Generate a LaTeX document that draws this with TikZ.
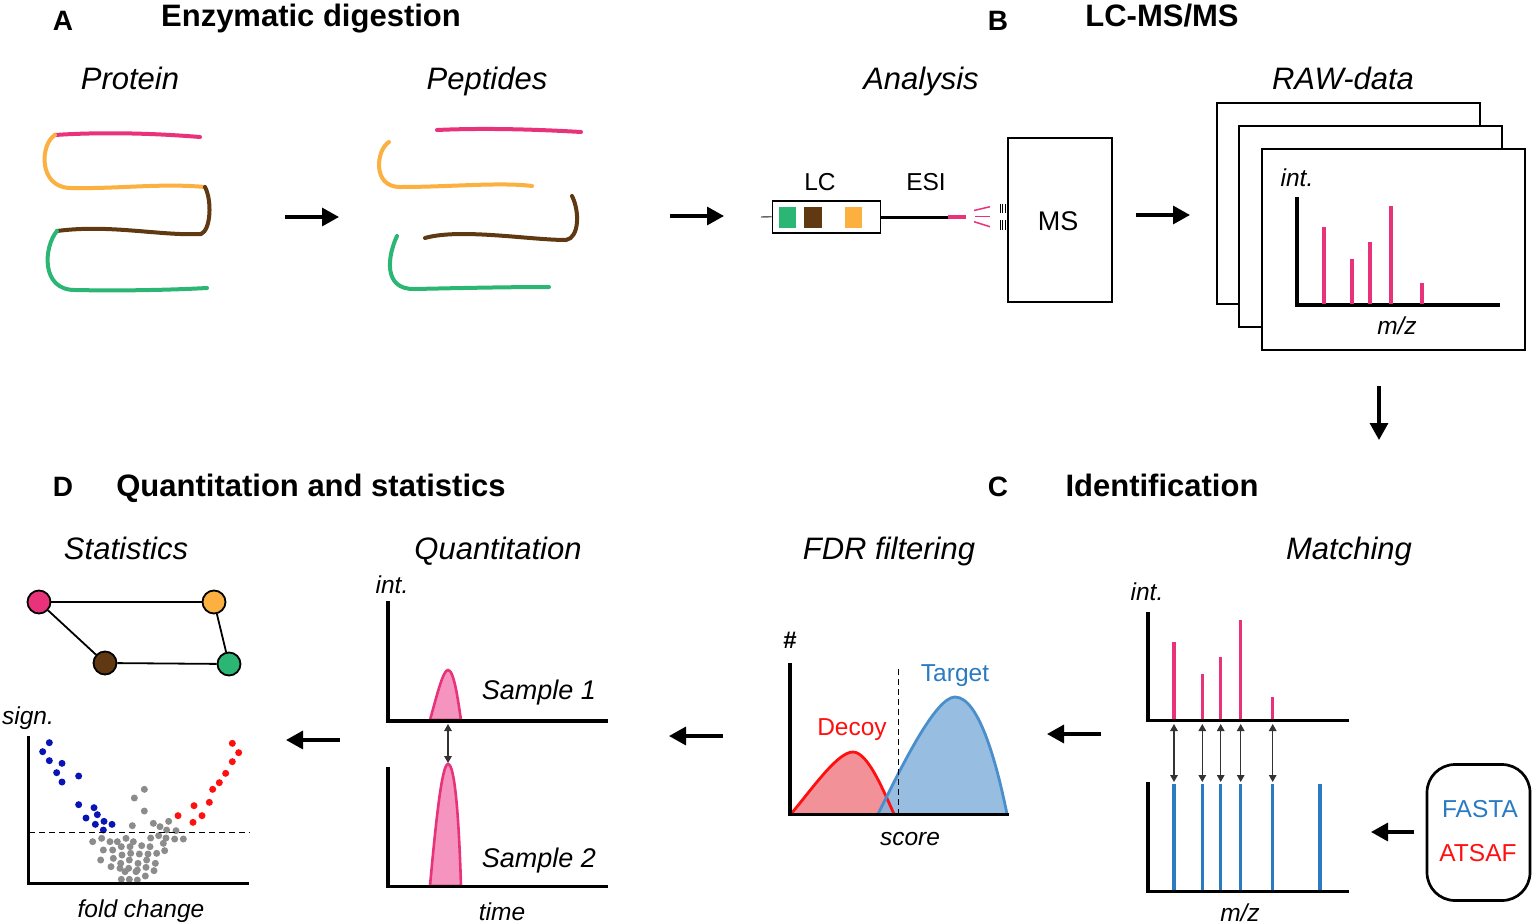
\documentclass[tikz,border=0pt]{standalone}
\usepackage{fontspec}
\setmainfont{Liberation Sans}
\usetikzlibrary{arrows.meta}
\definecolor{cpink}{HTML}{E8337A}
\definecolor{corange}{HTML}{FBB040}
\definecolor{cbrown}{HTML}{603913}
\definecolor{cgreen}{HTML}{2BB673}
\definecolor{peakfill}{HTML}{F594BE}
\definecolor{cblue}{HTML}{2A7BC1}
\definecolor{dotblue}{HTML}{0A14B4}
\definecolor{dotred}{HTML}{FF1010}
\definecolor{dotgray}{HTML}{8C8C8C}
\definecolor{decoyfill}{HTML}{F07F86}
\definecolor{targetfill}{HTML}{85B2DC}
\definecolor{targetline}{HTML}{4A8FCB}
\tikzset{
  title/.style={font=\fontsize{31}{36}\selectfont\bfseries, anchor=base, inner sep=0pt},
  letter/.style={font=\fontsize{28}{32}\selectfont\bfseries, anchor=base, inner sep=0pt},
  sub/.style={font=\fontsize{31}{36}\selectfont\itshape, anchor=base, inner sep=0pt},
  lab/.style={font=\fontsize{24.5}{28}\selectfont, anchor=base, inner sep=0pt},
  ilab/.style={font=\fontsize{24.5}{28}\selectfont\itshape, anchor=base, inner sep=0pt},
  slab/.style={font=\fontsize{27}{32}\selectfont\itshape, anchor=base, inner sep=0pt},
  flow/.style={line width=3.3pt, -{Triangle[length=17pt,width=18pt]}},
  strand/.style={line width=4pt, line cap=round},
  axis/.style={line width=3.6pt},
  spec/.style={line width=3.3pt},
  dbl/.style={line width=1.4pt, {Triangle[length=7pt,width=7.5pt]}-{Triangle[length=7pt,width=7.5pt]}},
  netnode/.style={circle, draw=black, line width=1.8pt, minimum size=23pt, inner sep=0pt},
  netedge/.style={line width=1.8pt},
  frame/.style={draw=black, line width=1.7pt, fill=white},
  dashline/.style={line width=1.4pt, dash pattern=on 6pt off 4pt},
}
\begin{document}
\begin{tikzpicture}[x=1pt,y=-1pt]
\useasboundingbox (0,0) rectangle (1535,924);
\fill[white] (0,0) rectangle (1535,924);

% ---------- headers ----------
\node[letter] (lA) at (63,30) {A};
\node[title] (tA) at (311,26) {Enzymatic digestion};
\node[letter] (lB) at (998,30) {B};
\node[title] (tB) at (1162,26) {LC-MS/MS};
\node[letter] (lD) at (63,496) {D};
\node[title] (tD) at (311,496) {Quantitation and statistics};
\node[letter] (lC) at (998,496) {C};
\node[title] (tC) at (1162,496) {Identification};

\node[sub] (sProt) at (130,89) {Protein};
\node[sub] (sPep) at (487,89) {Peptides};
\node[sub] (sAna) at (921,89) {Analysis};
\node[sub] (sRaw) at (1343,89) {RAW-data};
\node[sub] (sStat) at (126,559) {Statistics};
\node[sub] (sQuant) at (498,559) {Quantitation};
\node[sub] (sFDR) at (889,559) {FDR filtering};
\node[sub] (sMatch) at (1349,559) {Matching};

% ---------- protein ----------
\draw[strand, cpink] (55,135) .. controls (100,132) and (150,133) .. (200,137);
\draw[strand, corange] (55,135) .. controls (40,144) and (38,187) .. (70,188) .. controls (120,189) and (160,183) .. (205,187);
\draw[strand, cbrown] (205,187) .. controls (212,200) and (211,230) .. (201,234) .. controls (160,236) and (110,224) .. (57,231);
\draw[strand, cgreen] (57,231) .. controls (44,246) and (40,290) .. (75,290) .. controls (120,291) and (170,290) .. (207,288);

% ---------- peptides ----------
\draw[strand, cpink] (437,130) .. controls (480,128) and (530,129) .. (581,132);
\draw[strand, corange] (389,142) .. controls (376,150) and (372,187) .. (400,187) .. controls (450,187) and (500,182) .. (532,186);
\draw[strand, cbrown] (572,196) .. controls (580,212) and (579,238) .. (566,240) .. controls (530,240) and (460,228) .. (425,238);
\draw[strand, cgreen] (397,236) .. controls (388,255) and (382,290) .. (415,289) .. controls (460,288) and (510,287) .. (549,287);

% ---------- flow arrows ----------
\coordinate (a1s) at (285,217); \coordinate (a1e) at (339,217);
\coordinate (a2s) at (670,216); \coordinate (a2e) at (724,216);
\coordinate (a3s) at (1136,215); \coordinate (a3e) at (1190,215);
\coordinate (a4s) at (1379,386); \coordinate (a4e) at (1379,440);
\coordinate (a5s) at (1101,734); \coordinate (a5e) at (1047,734);
\coordinate (a6s) at (723,736); \coordinate (a6e) at (669,736);
\coordinate (a7s) at (340,740); \coordinate (a7e) at (286,740);
\coordinate (a8s) at (1414,832); \coordinate (a8e) at (1371,832);
\foreach \i in {1,...,8} \draw[flow] (a\i s) -- (a\i e);

% ---------- LC / ESI / MS ----------
\node[lab] (tLC) at (820,190) {LC};
\node[lab] (tESI) at (926,190) {ESI};
\node[draw=black, line width=1.6pt, minimum width=108pt, minimum height=32pt, inner sep=0pt] (lcbox) at (826.5,216.7) {};
\draw[line width=1.4pt, black!60] (761,217) -- (lcbox.west);
\fill[cgreen] (778.5,206.7) rectangle (795.7,227.7);
\fill[cbrown] (804.3,206.7) rectangle (822,227.7);
\fill[corange] (845,206.7) rectangle (862.3,227.7);
\coordinate (tube) at (948,217);
\draw[line width=3pt] (lcbox.east |- tube) -- (tube);
\draw[line width=3.2pt, cpink] (tube) -- (966,217);
\draw[line width=1.5pt, cpink] (974,210.5) -- (990,206.7);
\draw[line width=1.5pt, cpink] (975,216.7) -- (990,216.7);
\draw[line width=1.5pt, cpink] (974,221.7) -- (990,226.7);
\foreach \xx in {1000.5,1002.8,1005.1} {
  \draw[line width=1.2pt] (\xx,203.5) -- (\xx,213);
  \draw[line width=1.2pt] (\xx,220) -- (\xx,229.5);
}
\node[frame, minimum width=104pt, minimum height=164pt, inner sep=0pt, fill=none] (ms) at (1060,220) {};
\node[font=\fontsize{27}{32}\selectfont, anchor=base, inner sep=0pt] (tMS) at (1058,230) {MS};

% ---------- RAW data ----------
\draw[frame] (1217,103) rectangle (1480,304);
\draw[frame] (1239,126) rectangle (1502,327);
\draw[frame] (1262,149) rectangle (1525,350);
\node[ilab] (rInt) at (1297,186) {int.};
\node[ilab] (rMz) at (1397,334) {m/z};
\draw[axis] (1297,197) -- (1297,305) -- (1500,305);
\foreach \px/\py in {1324/227, 1352/259, 1370/242, 1391/206, 1422/283}
  \draw[spec, cpink] (\px,\py) -- (\px,303.5);

% ---------- Matching ----------
\node[ilab] (mInt) at (1147,600) {int.};
\draw[axis] (1148,612) -- (1148,720.5) -- (1349,720.5);
\foreach \px/\py in {1174/642, 1202.3/674, 1220.7/657, 1240.7/620, 1272.7/697}
  \draw[spec, cpink] (\px,\py) -- (\px,719);
\draw[axis] (1148,782) -- (1148,891.5) -- (1349,891.5);
\foreach \px in {1174, 1202.3, 1220.7, 1240.7, 1272.7, 1320}
  \draw[spec, cblue] (\px,784) -- (\px,890);
\foreach \px in {1174, 1202.3, 1220.7, 1240.7, 1272.7}
  \draw[dbl, black!80] (\px,724) -- (\px,782);
\node[ilab] (mMz) at (1240,921) {m/z};
\node[draw=black, line width=2.7pt, rounded corners=28pt, minimum width=103pt, minimum height=136pt, inner sep=0pt] (fasta) at (1478.5,832.5) {};
\node[lab, text=cblue] (tFasta) at (1480,817) {FASTA};
\node[lab, text=dotred] (tAtsaf) at (1478,861) {ATSAF};

% ---------- FDR ----------
\node[font=\fontsize{24}{28}\selectfont\bfseries, anchor=base, inner sep=0pt] (hash) at (790,648) {\#};
\fill[decoyfill, opacity=0.85] (791,814) .. controls (815,785) and (838,752) .. (853,752) .. controls (868,752) and (884,792) .. (894,814) -- cycle;
\fill[targetfill, opacity=0.85] (878,814) .. controls (900,770) and (935,697) .. (955,697) .. controls (980,697) and (998,770) .. (1007,814) -- cycle;
\draw[line width=2.8pt, dotred] (791,814) .. controls (815,785) and (838,752) .. (853,752) .. controls (868,752) and (884,792) .. (894,814);
\draw[line width=2.8pt, targetline] (878,814) .. controls (900,770) and (935,697) .. (955,697) .. controls (980,697) and (998,770) .. (1007,814);
\draw[dashline] (898.5,669) -- (898.5,813);
\draw[axis] (790,663) -- (790,814.5) -- (1009,814.5);
\node[lab, text=dotred] (tDecoy) at (852,735) {Decoy};
\node[lab, text=cblue] (tTarget) at (955,681) {Target};
\node[ilab] (tScore) at (910,845) {score};

% ---------- Quantitation ----------
\node[ilab] (qInt) at (392,593) {int.};
\filldraw[fill=peakfill, draw=cpink, line width=2.6pt] (430,720) .. controls (437,695) and (443,670) .. (448,670) .. controls (454,670) and (458,700) .. (461,720) -- cycle;
\filldraw[fill=peakfill, draw=cpink, line width=2.6pt] (430,886) .. controls (436,820) and (442,764) .. (448,764) .. controls (455,764) and (459,820) .. (461,886) -- cycle;
\draw[axis] (388,601) -- (388,721) -- (608,721);
\draw[axis] (388,767) -- (388,886.5) -- (608,886.5);
\coordinate (qa) at (448,724); \coordinate (qb) at (448,763);
\draw[dbl, black!80] (qa) -- (qb);
\node[slab] (s1) at (539,699) {Sample 1};
\node[slab] (s2) at (539,867) {Sample 2};
\node[ilab] (tTime) at (502,920) {time};

% ---------- Statistics network ----------
\node[netnode, fill=cpink] (np) at (39,602) {};
\node[netnode, fill=corange] (no) at (214,602) {};
\node[netnode, fill=cbrown] (nb) at (105,663) {};
\node[netnode, fill=cgreen] (ng) at (229,664) {};
\draw[netedge] (np) -- (no);
\draw[netedge] (np) -- (nb);
\draw[netedge] (nb) -- (ng);
\draw[netedge] (no) -- (ng);

% ---------- Volcano ----------
\node[ilab] (vSign) at (28,724) {sign.};
\node[ilab] (vFold) at (141,917) {fold change};
\foreach \p/\q in {433/268,403/294,433/333,397/377,460/370,480/380,506/364,500/390,528/392,476/407,452/414,498/414,524/417,550/417,305/415,278/425,330/425,352/425,378/415,400/425,310/450,338/450,364/440,390/440,425/437,450/440,490/430,340/475,366/465,392/460,418/462,444/462,470/460,494/452,302/480,362/490,388/480,414/490,440/480,466/490,333/500,360/505,386/505,412/510,438/502,462/512,375/515,408/515,436/528,364/538,388/538,412/540}
  \fill[dotgray] ({\p/3},{700+\q/3}) circle (3.5pt);
\foreach \p/\q in {148/128,128/155,148/182,186/190,170/218,236/228,186/246,236/314,282/323,292/344,258/354,312/364,286/373,336/373,310/390}
  \fill[dotblue] ({\p/3},{700+\q/3}) circle (3.5pt);
\foreach \p/\q in {697/130,716/158,697/185,677/220,658/248,638/268,628/307,582/317,606/347,534/347,579/367}
  \fill[dotred] ({\p/3},{700+\q/3}) circle (3.5pt);
\draw[dashline] (29,832.3) -- (250,832.3);
\draw[axis] (28.5,736) -- (28.5,883.5) -- (249,883.5);
\end{tikzpicture}
\end{document}
